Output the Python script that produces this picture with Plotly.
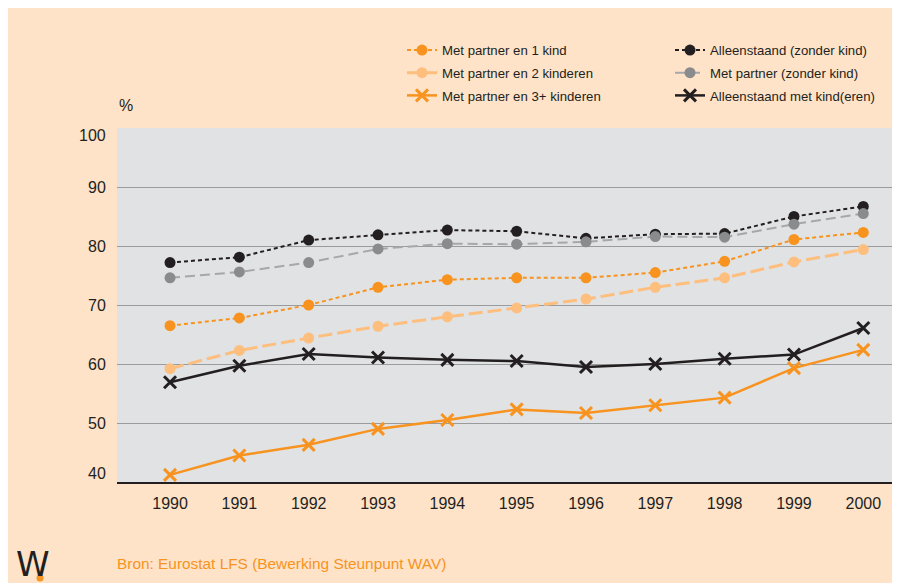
import plotly.graph_objects as go

years = list(range(1990, 2001))

names = [
    "Met partner en 1 kind",
    "Met partner en 2 kinderen",
    "Met partner en 3+ kinderen",
    "Alleenstaand (zonder kind)",
    "Met partner (zonder kind)",
    "Alleenstaand met kind(eren)",
]

partner_1_kind = [66.5, 67.8, 70.0, 73.0, 74.3, 74.6, 74.6, 75.5, 77.4, 81.1, 82.3]
partner_2_kind = [59.2, 62.3, 64.4, 66.4, 68.0, 69.5, 71.0, 73.0, 74.6, 77.3, 79.4]
partner_3_kind = [41.2, 44.5, 46.3, 49.0, 50.5, 52.3, 51.7, 53.0, 54.3, 59.3, 62.4]
alleen_zonder = [77.2, 78.1, 81.0, 81.9, 82.7, 82.5, 81.3, 82.0, 82.1, 85.0, 86.7]
partner_zonder = [74.6, 75.6, 77.2, 79.5, 80.4, 80.3, 80.7, 81.6, 81.5, 83.7, 85.5]
alleen_met_kind = [56.9, 59.7, 61.7, 61.1, 60.7, 60.5, 59.5, 60.0, 60.9, 61.6, 66.1]

y_ticks = [40, 50, 60, 70, 80, 90, 100]
y_tick_labels = ["40", "50", "60", "70", "80", "90", "100"]

ORANGE = "#F7931E"
LIGHT = "#FDBE7E"
BLACK = "#231F20"
GREY_M = "#8A8B8D"
GREY_L = "#A6A7A9"

fig = go.Figure()

def dot_trace(name, vals, lc, mc, dash, lw, legend):
    fig.add_trace(go.Scatter(
        x=years, y=vals, name=name, mode="lines+markers", legend=legend,
        legendgroup=name,
        line=dict(color=lc, width=lw, dash=dash),
        marker=dict(symbol="circle", size=11, color=mc),
    ))

def x_trace(name, vals, c, legend):
    fig.add_trace(go.Scatter(
        x=years, y=vals, name=name, mode="lines+markers", legend=legend,
        legendgroup=name,
        line=dict(color=c, width=2.5),
        marker=dict(symbol="x-thin", size=12, color=c, line=dict(color=c, width=3)),
    ))

dot_trace(names[0], partner_1_kind, ORANGE, ORANGE, "4px,3px", 2, "legend")
dot_trace(names[1], partner_2_kind, LIGHT, LIGHT, "14px,5px", 3, "legend")
x_trace(names[2], partner_3_kind, ORANGE, "legend")
dot_trace(names[3], alleen_zonder, BLACK, BLACK, "4px,3px", 2, "legend2")
dot_trace(names[4], partner_zonder, GREY_L, GREY_M, "10px,5px", 2, "legend2")
x_trace(names[5], alleen_met_kind, BLACK, "legend2")

legend_common = dict(
    orientation="v", yanchor="top", xanchor="left",
    xref="container", yref="container",
    traceorder="grouped", tracegroupgap=2.5,
    font=dict(size=13.2, color="#231F20"),
    bgcolor="rgba(0,0,0,0)", borderwidth=0,
)

annotations = [
    dict(text="%", xref="paper", yref="paper", x=0.0, y=1.0, xanchor="left",
         yanchor="middle", yshift=23, showarrow=False, font=dict(size=16)),
    dict(text="Bron: Eurostat LFS (Bewerking Steunpunt WAV)", xref="paper", yref="paper",
         x=-0.003, y=0, xanchor="left", yanchor="middle", yshift=-81, showarrow=False,
         font=dict(size=15.4, color=ORANGE)),
    dict(text="W", xref="paper", yref="paper", x=-0.106, y=0, xanchor="center",
         yanchor="middle", yshift=-82, showarrow=False,
         font=dict(size=34, color=BLACK, family="DejaVu Sans, sans-serif")),
]
for v, lab in zip(y_ticks, y_tick_labels):
    shift = 0
    if v == y_ticks[-1]:
        shift = -7
    elif v == y_ticks[0]:
        shift = 9
    annotations.append(dict(
        text=lab, xref="paper", yref="y", x=0, y=v, xanchor="right", yanchor="middle",
        xshift=-9, yshift=shift, showarrow=False, font=dict(size=16, color=BLACK),
    ))

fig.update_layout(
    width=900, height=583,
    margin=dict(l=109, r=0, t=120, b=109, autoexpand=False),
    paper_bgcolor="#FEE3C8",
    plot_bgcolor="#E1E2E3",
    font=dict(family="Liberation Sans, Arial, sans-serif", color="#231F20", size=16),
    showlegend=True,
    legend=dict(x=394 / 900, y=0.9537, **legend_common),
    legend2=dict(x=662 / 900, y=0.9537, **legend_common),
    xaxis=dict(
        range=[1989.235, 2000.645], tickmode="array", tickvals=years,
        showgrid=False, zeroline=False, automargin=False,
        showline=True, linecolor="#231F20", linewidth=1.5,
        ticks="outside", ticklen=6, tickcolor="rgba(0,0,0,0)",
        tickfont=dict(size=16),
    ),
    yaxis=dict(
        range=[40, 100], tickmode="array", tickvals=y_ticks,
        showgrid=True, gridcolor="#9A9B9D", gridwidth=1.2, automargin=False,
        zeroline=False, showline=False, showticklabels=False,
    ),
    annotations=annotations,
    shapes=[
        dict(type="circle", xref="paper", yref="paper",
             xsizemode="pixel", ysizemode="pixel",
             xanchor=(32 - 109) / 791, yanchor=(474 - 570) / 354,
             x0=-3.5, x1=3.5, y0=-3.5, y1=3.5,
             fillcolor=ORANGE, line=dict(width=0)),
    ],
)

fig.write_html("out.html")
